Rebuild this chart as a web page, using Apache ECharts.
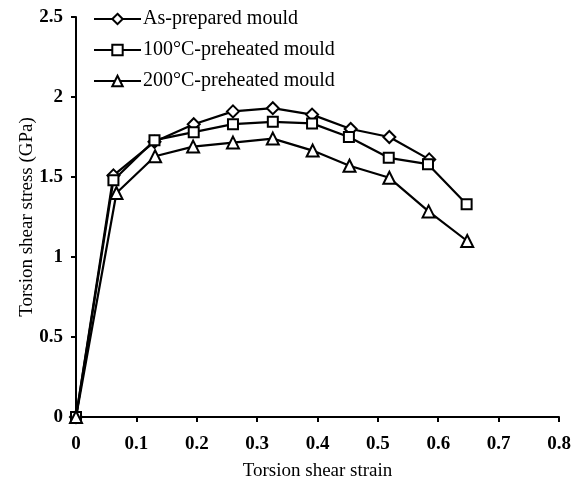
<!DOCTYPE html>
<html>
<head>
<meta charset="utf-8">
<style>
  html, body { margin: 0; padding: 0; background: #fff; }
  #chart { width: 575px; height: 480px; }
</style>
<script src="https://cdn.jsdelivr.net/npm/echarts@6/dist/echarts.min.js"></script>
</head>
<body>
<div id="chart"></div>
<script>
// Torsion shear stress–strain curves for three mould conditions
const seriesNames = ['As-prepared mould', '100°C-preheated mould', '200°C-preheated mould'];
const strainAsPrepared = [0, 0.062, 0.130, 0.195, 0.260, 0.326, 0.391, 0.455, 0.519, 0.585];
const stressAsPrepared = [0, 1.51, 1.72, 1.83, 1.91, 1.93, 1.89, 1.80, 1.75, 1.61];
const strain100 = [0, 0.062, 0.130, 0.195, 0.260, 0.326, 0.391, 0.452, 0.518, 0.583, 0.647];
const stress100 = [0, 1.48, 1.73, 1.78, 1.83, 1.845, 1.835, 1.75, 1.62, 1.58, 1.33];
const strain200 = [0, 0.067, 0.131, 0.194, 0.260, 0.326, 0.392, 0.453, 0.519, 0.584, 0.648];
const stress200 = [0, 1.40, 1.63, 1.69, 1.715, 1.74, 1.665, 1.57, 1.495, 1.285, 1.10];
const symbols = ['diamond', 'rect', 'triangle'];
const symbolSizes = [12, 10, 12];

const pair = (xs, ys) => xs.map((x, i) => [x, ys[i]]);
const seriesData = [
  pair(strainAsPrepared, stressAsPrepared),
  pair(strain100, stress100),
  pair(strain200, stress200)
];

const font = '"Liberation Serif", "Times New Roman", serif';
const chart = echarts.init(document.getElementById('chart'), null, { renderer: 'canvas' });

chart.setOption({
  animation: false,
  backgroundColor: '#fff',
  grid: { left: 76, right: 16, top: 17, bottom: 63, containLabel: false, outerBoundsMode: 'none' },
  legend: {
    orient: 'vertical',
    left: 88,
    top: 4,
    itemWidth: 47,
    itemHeight: 13,
    itemGap: 11,
    data: seriesNames,
    textStyle: { fontFamily: font, fontSize: 20, color: '#000', padding: [0, 0, 0, -3] }
  },
  xAxis: {
    type: 'value',
    min: 0, max: 0.8, interval: 0.1,
    name: 'Torsion shear strain',
    nameLocation: 'middle',
    nameGap: 45,
    nameMoveOverlap: false,
    nameTextStyle: { fontFamily: font, fontSize: 19, color: '#000' },
    axisLine: { lineStyle: { color: '#000', width: 2 } },
    axisTick: { length: 5, lineStyle: { color: '#000', width: 2 } },
    splitLine: { show: false },
    axisLabel: {
      fontFamily: font, fontSize: 19, fontWeight: 'bold', color: '#000', margin: 18,
      formatter: v => String(+v.toFixed(1))
    }
  },
  yAxis: {
    type: 'value',
    min: 0, max: 2.5, interval: 0.5,
    name: 'Torsion shear stress (GPa)',
    nameLocation: 'middle',
    nameGap: 39,
    nameMoveOverlap: false,
    nameTextStyle: { fontFamily: font, fontSize: 19, color: '#000' },
    axisLine: { show: true, lineStyle: { color: '#000', width: 2 } },
    axisTick: { show: true, length: 5, lineStyle: { color: '#000', width: 2 } },
    splitLine: { show: false },
    axisLabel: {
      fontFamily: font, fontSize: 19, fontWeight: 'bold', color: '#000', margin: 13,
      formatter: v => String(+v.toFixed(1))
    }
  },
  series: seriesNames.map((name, i) => ({
    name,
    type: 'line',
    data: seriesData[i],
    symbol: symbols[i],
    symbolSize: symbolSizes[i],
    showAllSymbol: true,
    z: 2 + i,
    lineStyle: { color: '#000', width: 2.2 },
    itemStyle: { color: '#fff', borderColor: '#000', borderWidth: 2 }
  }))
});
</script>
</body>
</html>
